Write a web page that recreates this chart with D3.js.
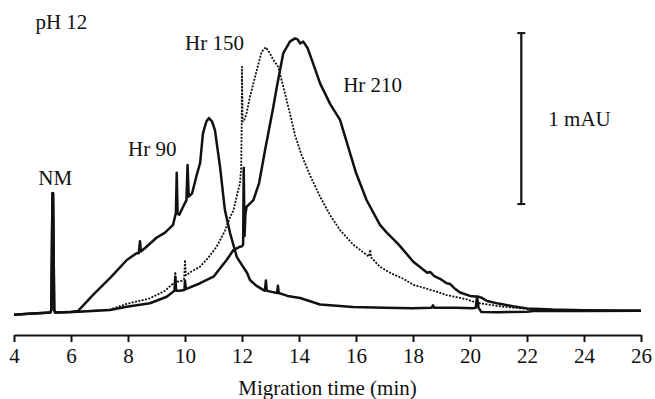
<!DOCTYPE html>
<html>
<head>
<meta charset="utf-8">
<script src="https://cdn.jsdelivr.net/npm/d3@7"></script>
<style>
  html, body { margin: 0; padding: 0; background: #fff; }
  svg { display: block; }
  text { font-family: "Liberation Serif", "Times New Roman", "DejaVu Serif", serif; fill: #111; }
</style>
</head>
<body>
<svg id="chart" width="655" height="399"></svg>
<script>
// ---- data (time in min, absorbance in mAU) ----
const xTicks = [4, 6, 8, 10, 12, 14, 16, 18, 20, 22, 24, 26];
const xTitle = "Migration time (min)";

const baselineNM = [
  [4.0, -0.01], [4.5, -0.005], [5.0, 0.0], [5.28, 0.003], [5.31, 0.02], [5.35, 0.70],
  [5.37, 0.70], [5.41, 0.02], [5.44, 0.003], [6.0, 0.006]
];

const hr90 = [
  [6.25, 0.012], [6.8, 0.11], [7.4, 0.21], [7.96, 0.31], [8.3, 0.35], [8.38, 0.35],
  [8.42, 0.42], [8.45, 0.36], [8.6, 0.38], [9.0, 0.44], [9.3, 0.47], [9.58, 0.515],
  [9.68, 0.585], [9.71, 0.82], [9.74, 0.58], [9.8, 0.575], [9.93, 0.62], [10.05, 0.66],
  [10.09, 0.865], [10.13, 0.68], [10.25, 0.70], [10.4, 0.80], [10.53, 0.877], [10.63, 1.05],
  [10.75, 1.12], [10.84, 1.14], [10.95, 1.12], [11.05, 1.07], [11.15, 0.95], [11.23, 0.854],
  [11.32, 0.72], [11.4, 0.602], [11.58, 0.468], [11.82, 0.327], [12.0, 0.28], [12.18, 0.234],
  [12.28, 0.193], [12.5, 0.16], [12.74, 0.135], [12.8, 0.13], [12.84, 0.19], [12.87, 0.13],
  [13.0, 0.125], [13.23, 0.117], [13.26, 0.16], [13.29, 0.117], [13.6, 0.10], [14.04, 0.088],
  [14.74, 0.05], [15.9, 0.035], [17.0, 0.03], [18.0, 0.028], [18.65, 0.03], [18.7, 0.045],
  [18.75, 0.03], [19.5, 0.03], [20.1, 0.028], [20.2, 0.03], [20.25, 0.095], [20.3, 0.03],
  [20.4, 0.006], [21.0, 0.005], [22.0, 0.008], [22.3, 0.013], [24.0, 0.012], [26.0, 0.013]
];

const hr150 = [
  [6.25, 0.008], [7.37, 0.02], [7.95, 0.053], [8.77, 0.086], [9.3, 0.13], [9.59, 0.174],
  [9.63, 0.17], [9.66, 0.24], [9.69, 0.18], [9.9, 0.19], [9.97, 0.2], [10.0, 0.31],
  [10.03, 0.22], [10.2, 0.24], [10.53, 0.271], [10.8, 0.32], [11.11, 0.388], [11.4, 0.48],
  [11.58, 0.56], [11.7, 0.60], [11.84, 0.70], [11.93, 0.76], [11.97, 0.85], [11.99, 1.10],
  [12.0, 1.44], [12.02, 1.12], [12.06, 1.12], [12.15, 1.16], [12.28, 1.265], [12.52, 1.421],
  [12.69, 1.528], [12.84, 1.554], [12.98, 1.518], [13.1, 1.48], [13.27, 1.44], [13.45, 1.323],
  [13.68, 1.168], [13.86, 1.04], [14.1, 0.92], [14.4, 0.80], [14.74, 0.68], [15.1, 0.57],
  [15.44, 0.485], [15.9, 0.40], [16.45, 0.33], [16.5, 0.37], [16.53, 0.325], [16.84, 0.27],
  [17.2, 0.235], [17.66, 0.2], [18.01, 0.165], [18.83, 0.125], [19.18, 0.105], [19.88, 0.08],
  [20.12, 0.066], [20.35, 0.057], [21.0, 0.04], [21.75, 0.027], [22.5, 0.02], [24.0, 0.015],
  [26.0, 0.013]
];

const hr210 = [
  [6.25, 0.008], [7.37, 0.018], [7.95, 0.037], [8.77, 0.057], [9.36, 0.095], [9.59, 0.125],
  [9.63, 0.13], [9.66, 0.21], [9.69, 0.13], [9.8, 0.13], [9.98, 0.135], [10.0, 0.19],
  [10.03, 0.14], [10.53, 0.174], [11.0, 0.212], [11.46, 0.31], [11.7, 0.368], [11.93, 0.388],
  [12.0, 0.39], [12.04, 0.40], [12.06, 0.85], [12.09, 0.45], [12.12, 0.58], [12.16, 0.62],
  [12.4, 0.66], [12.6, 0.76], [12.81, 0.953], [13.1, 1.206], [13.22, 1.32], [13.45, 1.52],
  [13.68, 1.587], [13.86, 1.606], [13.95, 1.60], [14.04, 1.577], [14.15, 1.587], [14.3, 1.55],
  [14.45, 1.48], [14.74, 1.343], [15.1, 1.22], [15.44, 1.129], [16.0, 0.82], [16.37, 0.661],
  [16.84, 0.515], [17.08, 0.47], [17.5, 0.40], [18.01, 0.30], [18.5, 0.235], [18.6, 0.24],
  [18.75, 0.215], [19.0, 0.195], [19.18, 0.174], [19.3, 0.17], [19.45, 0.145], [19.65, 0.12],
  [20.0, 0.10], [20.3, 0.095], [20.4, 0.09], [20.6, 0.07], [21.0, 0.055], [21.5, 0.04],
  [22.0, 0.027], [22.9, 0.02], [24.0, 0.016], [26.0, 0.013]
];

const traces = [
  { name: "Hr 90",  points: baselineNM.concat(hr90),  dotted: false },
  { name: "Hr 150", points: baselineNM.concat(hr150), dotted: true },
  { name: "Hr 210", points: baselineNM.concat(hr210), dotted: false }
];

const labels = [
  { text: "pH 12",  t: 4.75,  v: 1.66 },
  { text: "Hr 150", t: 10.0,  v: 1.54 },
  { text: "Hr 210", t: 15.55, v: 1.29 },
  { text: "Hr 90",  t: 8.0,   v: 0.92 },
  { text: "NM",     t: 4.85,  v: 0.75 }
];

const scaleBar = { t: 21.8, from: 0.637, to: 1.637, label: "1 mAU" };

// ---- drawing ----
const svg = d3.select("#chart");
const x = d3.scaleLinear().domain([4, 26]).range([14, 641]);
const y = d3.scaleLinear().domain([0, 1]).range([313, 142]);

const line = d3.line().x(d => x(d[0])).y(d => y(d[1]));

svg.selectAll("path.trace")
  .data(traces)
  .join("path")
  .attr("class", "trace")
  .attr("d", d => line(d.points))
  .attr("fill", "none")
  .attr("stroke", "#111")
  .attr("stroke-width", d => d.dotted ? 1.8 : 2.5)
  .attr("stroke-dasharray", d => d.dotted ? "2,1.4" : null)
  .attr("stroke-linejoin", "round");

// x axis
const axis = d3.axisBottom(x).tickValues(xTicks).tickSize(7).tickSizeOuter(0).tickPadding(6);
const gx = svg.append("g").attr("transform", "translate(0,335)").call(axis);
gx.attr("font-family", null);
gx.select(".domain").attr("stroke", "#111").attr("stroke-width", 2);
gx.selectAll(".tick line").attr("stroke", "#111").attr("stroke-width", 2);
gx.selectAll(".tick text")
  .attr("font-size", 21)
  .attr("fill", "#111");

svg.append("text")
  .attr("x", (x(4) + x(26)) / 2)
  .attr("y", 395)
  .attr("text-anchor", "middle")
  .attr("font-size", 21)
  .text(xTitle);

// labels
svg.selectAll("text.lbl")
  .data(labels)
  .join("text")
  .attr("class", "lbl")
  .attr("x", d => x(d.t))
  .attr("y", d => y(d.v))
  .attr("font-size", 21)
  .text(d => d.text);

// scale bar
const sbx = x(scaleBar.t);
svg.append("line")
  .attr("x1", sbx).attr("x2", sbx)
  .attr("y1", y(scaleBar.from)).attr("y2", y(scaleBar.to))
  .attr("stroke", "#111").attr("stroke-width", 2.2);
[scaleBar.from, scaleBar.to].forEach(v => {
  svg.append("line")
    .attr("x1", sbx - 4).attr("x2", sbx + 4)
    .attr("y1", y(v)).attr("y2", y(v))
    .attr("stroke", "#111").attr("stroke-width", 2);
});
svg.append("text")
  .attr("x", sbx + 27)
  .attr("y", y((scaleBar.from + scaleBar.to) / 2) + 7)
  .attr("font-size", 21)
  .text(scaleBar.label);
</script>
</body>
</html>
